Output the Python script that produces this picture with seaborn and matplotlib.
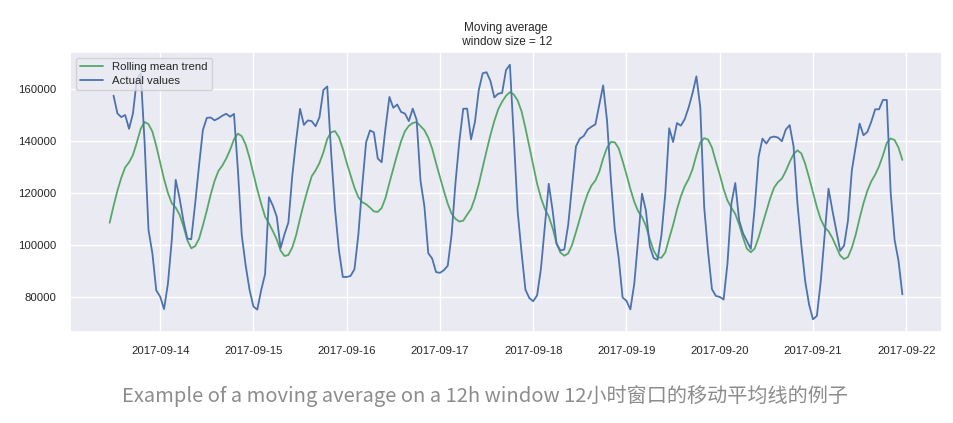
import numpy as np
import pandas as pd
import matplotlib
matplotlib.use("Agg")
import matplotlib.pyplot as plt
import matplotlib.dates as mdates
import seaborn as sns

# ---- data: hourly ad counts, 2017-09-13 00:00 .. 2017-09-21 23:00 ----
start_time = "2017-09-13 00:00"
window = 12

ads_0913 = [80115, 79885, 89325, 101930, 121630, 116475, 106495, 102795, 108055, 116125, 131030, 149020,
            157590, 150715, 149295, 150100, 144780, 150690, 163840, 166235, 139520, 105895, 96780, 82520]
ads_0914 = [80125, 75335, 85105, 102080, 125135, 118030, 109225, 102475, 102240, 115840, 130540, 144325,
            148970, 149150, 148040, 148810, 149830, 150570, 149440, 150520, 129130, 103815, 92175, 82765]
ads_0915 = [76315, 75130, 82640, 88795, 118430, 115190, 110940, 98860, 104185, 108665, 126640, 140435,
            152470, 146275, 148020, 147735, 145750, 149285, 159725, 161085, 135520, 113785, 98045, 87730]
ads_0916 = [87680, 88115, 90630, 103935, 122815, 139600, 144145, 143425, 133345, 131895, 145160, 157060,
            152880, 154140, 151275, 150645, 147740, 152550, 148230, 124700, 114905, 96860, 94785, 89570]
ads_0917 = [89290, 90300, 92000, 104000, 124000, 140000, 152520, 152525, 140700, 147375, 159770, 166160,
            166580, 163185, 156870, 158310, 158610, 167395, 169470, 141805, 112935, 97125, 82800, 79560]
ads_0918 = [78355, 80600, 91000, 107500, 123600, 113300, 100500, 97900, 98300, 107700, 122800, 138000,
            141000, 142000, 144500, 145600, 146500, 154000, 161500, 148000, 125000, 106000, 95000, 79800]
ads_0919 = [78500, 75200, 85000, 102000, 119800, 113300, 99500, 95000, 94300, 103800, 120000, 145000,
            139700, 147000, 146000, 148500, 153000, 158500, 165000, 153000, 114600, 97400, 83000, 80400]
ads_0920 = [80000, 79000, 93000, 116000, 123900, 109500, 104500, 101500, 98500, 114500, 134000, 141000,
            139100, 141400, 141800, 141400, 140000, 144500, 146200, 138000, 116000, 100000, 86000, 77000]
ads_0921 = [71400, 72700, 86000, 104000, 121700, 113300, 105600, 97800, 99800, 109400, 128800, 138000,
            146800, 142300, 143600, 147500, 152300, 152300, 155900, 155900, 120000, 102000, 94000, 81000]

ads = ads_0913 + ads_0914 + ads_0915 + ads_0916 + ads_0917 + ads_0918 + ads_0919 + ads_0920 + ads_0921

title_text = "Moving average\n window size = {}".format(window)
legend_labels = ["Rolling mean trend", "Actual values"]
caption_text = "Example of a moving average on a 12h window 12小时窗口的移动平均线的例子"

# ---- build series ----
times = pd.date_range(start_time, periods=len(ads), freq="h")
series = pd.Series(ads, index=times, name="Ads")
rolling_mean = series.rolling(window=window).mean()

df_mean = pd.DataFrame({"Time": rolling_mean.index, "value": rolling_mean.values}).dropna()
df_actual = pd.DataFrame({"Time": series.index[window:], "value": series.values[window:]})

# ---- style ----
sns.set_theme(style="darkgrid")
plt.rcParams["font.family"] = ["Liberation Sans", "DejaVu Sans"]
text_color = "#262626"

fig = plt.figure(figsize=(9.54, 4.23), dpi=100)
ax = fig.add_axes([70 / 954, 1 - 332 / 423, (942 - 70) / 954, (332 - 52) / 423])

sns.lineplot(data=df_mean, x="Time", y="value", color="#55A868", lw=1.3,
             label=legend_labels[0], ax=ax)
sns.lineplot(data=df_actual, x="Time", y="value", color="#4C72B0", lw=1.3,
             label=legend_labels[1], ax=ax)

ax.set_xlabel("")
ax.set_ylabel("")
ax.set_title(title_text, fontsize=8.5, color=text_color, pad=5)

ax.xaxis.set_major_locator(mdates.DayLocator())
ax.xaxis.set_major_formatter(mdates.DateFormatter("%Y-%m-%d"))
ax.tick_params(axis="both", labelsize=8.2, colors=text_color, length=0)
ax.tick_params(axis="x", pad=10)
ax.tick_params(axis="y", pad=10)

leg = ax.legend(loc="upper left", fontsize=8.2, frameon=True, handlelength=2.0,
                borderpad=0.4, labelspacing=0.3)
for t in leg.get_texts():
    t.set_color(text_color)

fig.text(485 / 954, 1 - 396 / 423, caption_text, ha="center", va="center",
         fontsize=14.5, color="#8c8c8c", family=["Noto Sans CJK SC", "DejaVu Sans"])

fig.savefig("out.png", dpi=100)
